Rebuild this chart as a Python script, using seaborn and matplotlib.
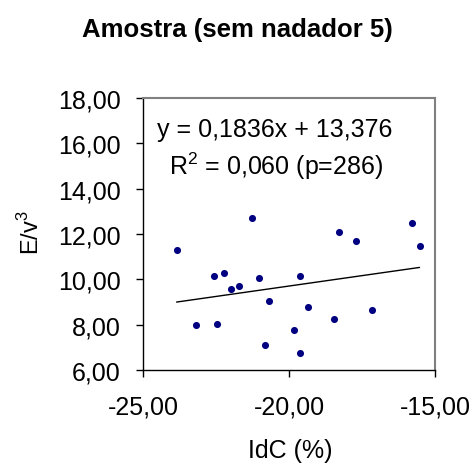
import matplotlib
matplotlib.use("Agg")
import matplotlib.pyplot as plt
import seaborn as sns
import numpy as np
import pandas as pd
from matplotlib.ticker import FuncFormatter

idc = [-23.85, -23.19, -22.56, -22.45, -22.23, -21.99, -21.72, -21.27, -21.04, -20.82,
       -20.69, -19.82, -19.63, -19.63, -19.35, -18.45, -18.29, -17.71, -17.15, -15.80, -15.53]
ev3 = [11.31, 7.97, 10.15, 8.04, 10.29, 9.57, 9.71, 12.69, 10.07, 7.10,
       9.06, 7.75, 10.15, 6.74, 8.78, 8.26, 12.10, 11.68, 8.63, 12.47, 11.46]
slope = 0.1836
intercept = 13.376
eq_text = "y = 0,1836x + 13,376"
r2_text = "R$^2$ = 0,060 (p=286)"
title = "Amostra (sem nadador 5)"
xlabel = "IdC (%)"
ylabel = "E/v$^3$"
xticks = [-25, -20, -15]
yticks = [6, 8, 10, 12, 14, 16, 18]

sns.set_style("white")
plt.rcParams['font.family'] = ['Liberation Sans', 'DejaVu Sans']
plt.rcParams['mathtext.fontset'] = 'custom'
plt.rcParams['mathtext.rm'] = 'Liberation Sans'
plt.rcParams['text.color'] = 'black'
plt.rcParams['axes.labelcolor'] = 'black'
plt.rcParams['xtick.color'] = 'black'
plt.rcParams['ytick.color'] = 'black'

df = pd.DataFrame({"IdC": idc, "E": ev3})
fig = plt.figure(figsize=(4.74, 4.64), dpi=100)
ax = fig.add_axes([143/474, 1-371/464, (435-143)/474, (371-99)/464])

sns.scatterplot(data=df, x="IdC", y="E", ax=ax, color="#000080", s=26, edgecolor="#000080", linewidth=0)
xs = np.array([min(idc), max(idc)])
sns.lineplot(x=xs, y=slope*xs + intercept, ax=ax, color="black", linewidth=1.0)

ax.set_xlim(-25, -15)
ax.set_ylim(6, 18)
ax.set_xticks(xticks)
ax.set_yticks(yticks)
fmt = FuncFormatter(lambda v, p: f"{v:.2f}".replace(".", ","))
ax.xaxis.set_major_formatter(fmt)
ax.yaxis.set_major_formatter(fmt)
ax.tick_params(axis='both', direction='out', length=5, width=1, color='black', labelsize=18,
               bottom=True, left=True)
ax.tick_params(axis='y', pad=11)
ax.tick_params(axis='x', pad=13)
for s in ['left', 'bottom']:
    ax.spines[s].set_color('black')
    ax.spines[s].set_linewidth(1)
for s in ['top', 'right']:
    ax.spines[s].set_color('#808080')
    ax.spines[s].set_linewidth(1.5)

ax.set_xlabel(xlabel, fontsize=18)
ax.set_ylabel(ylabel, fontsize=17)
ax.xaxis.set_label_coords(0.503, -0.250)
ax.yaxis.set_label_coords(-0.338, 0.507)
ax.text(0.45, 0.860, eq_text, transform=ax.transAxes, ha='center', va='baseline', fontsize=18)
ax.text(0.455, 0.7206, r2_text, transform=ax.transAxes, ha='center', va='baseline', fontsize=18)
fig.text(0.5, 1-30/464, title, ha='center', va='center', fontsize=18.5, fontweight='bold')

fig.savefig("out.png", dpi=100)
